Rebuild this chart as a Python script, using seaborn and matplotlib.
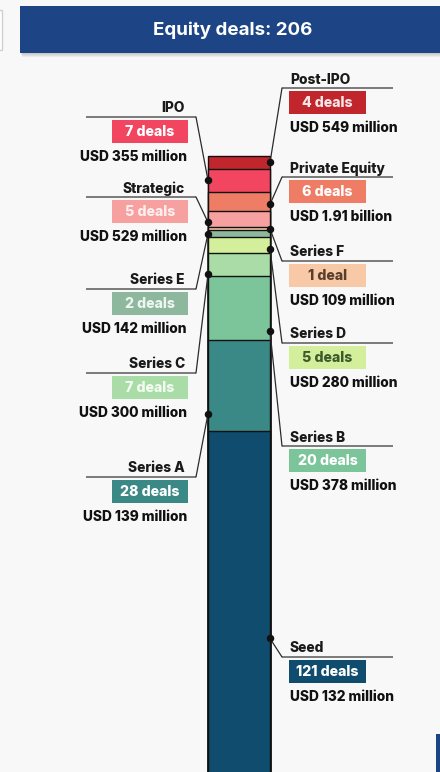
import matplotlib
matplotlib.use("Agg")
import matplotlib.pyplot as plt
import seaborn as sns
import pandas as pd
import numpy as np
from matplotlib.patches import Rectangle

# ---- data -------------------------------------------------------------
stages = ["Seed", "Series A", "Series B", "Series C", "Series D", "Series E",
          "Series F", "Strategic", "Private Equity", "IPO", "Post-IPO"]
deals = [121, 28, 20, 7, 5, 2, 1, 5, 6, 7, 4]
amounts = ["USD 132 million", "USD 139 million", "USD 378 million",
           "USD 300 million", "USD 280 million", "USD 142 million",
           "USD 109 million", "USD 529 million", "USD 1.91 billion",
           "USD 355 million", "USD 549 million"]

# ---- style ------------------------------------------------------------
seg_colors = ["#0f4c6d", "#3a8987", "#7cc49a", "#a9dca7", "#d3ef9c", "#8db89e",
              "#f7c9a6", "#f6a1a0", "#ef7d66", "#f2455f", "#c0262c"]
badge_text_colors = ["white", "white", "white", "#f4fbf2", "#3f5a2c", "#eef5f0",
                     "#5a3e2c", "#fdeeee", "white", "white", "#f8e6e6"]
side = ["R", "L", "R", "L", "R", "L", "R", "L", "R", "L", "R"]
line_y = [657, 477, 446, 373, 343, 289, 261, 197, 177, 117, 88]
anchor_frac = [0.47, 0.19, 0.14, 0.07, 0.25, 0.5, 0.5, 0.3, 0.34, 0.5, 0.5]

BG = "#f8f8f8"
NAVY = "#1d4586"
FONT = ["Inter", "DejaVu Sans"]
WEIGHT = "heavy"

sns.set_theme(style="white")
plt.rcParams["font.family"] = FONT

W, H = 440, 772
fig = plt.figure(figsize=(W / 100, H / 100), dpi=100, facecolor=BG)

# ---- stacked bar --------------------------------------------------------
total = sum(deals)
px_per_deal = 3.235
bar_top_px, bar_left_px, bar_right_px = 156, 208, 270
bar_h_px = total * px_per_deal
ax = fig.add_axes([bar_left_px / W, (H - bar_top_px - bar_h_px) / H,
                   (bar_right_px - bar_left_px) / W, bar_h_px / H])
ax.set_facecolor("none")

cum = np.cumsum(deals)
df = pd.DataFrame({"stage": stages, "deals": deals, "top": cum, "x": ["all"] * len(stages)})
# draw cumulative totals from the largest down so each segment shows on top
for i in range(len(stages) - 1, -1, -1):
    sns.barplot(data=df.iloc[[i]], x="x", y="top", color=seg_colors[i],
                saturation=1, width=0.8, edgecolor="#111111", linewidth=1.0, ax=ax)
ax.set_xlim(-0.4, 0.4)
ax.set_ylim(0, total)
ax.axis("off")
for p in ax.patches:
    p.set_clip_on(False)

# ---- overlay in pixel space for labels --------------------------------
ov = fig.add_axes([0, 0, 1, 1], zorder=5)
ov.set_xlim(0, W)
ov.set_ylim(H, 0)
ov.axis("off")
ov.patch.set_alpha(0)

to_ov = ov.transData.inverted()
bottoms = np.concatenate([[0], cum[:-1]])
for i, name in enumerate(stages):
    y_anchor = bottoms[i] + anchor_frac[i] * deals[i]
    x_edge = 0.4 if side[i] == "R" else -0.4
    ax_px, ay_px = to_ov.transform(ax.transData.transform((x_edge, y_anchor)))
    ly = line_y[i]
    n = deals[i]
    badge = f"{n} deal" if n == 1 else f"{n} deals"
    if side[i] == "R":
        jx, lx0, lx1 = 282, 282, 393
        bx0, bx1 = 289, 366
        tx, ha = 290, "left"
    else:
        jx, lx0, lx1 = 196, 86, 196
        bx0, bx1 = 112, 188
        tx, ha = 186, "right"
    ov.plot([lx0, lx1], [ly, ly], color="#707070", lw=1.3, solid_capstyle="butt")
    ov.plot([ax_px, jx], [ay_px, ly], color="#2b2b2b", lw=0.9)
    ov.plot([ax_px], [ay_px], "o", color="#111111", ms=4.4)
    ov.text(tx - (1 if ha == "right" else 0), ly - 8.5, name, ha=ha, va="center",
            fontsize=9.9, color="#1a1a1a", fontweight=WEIGHT)
    ov.add_patch(Rectangle((bx0, ly + 3), bx1 - bx0, 23, facecolor=seg_colors[i],
                           edgecolor="none"))
    ov.text((bx0 + bx1) / 2, ly + 15, badge, ha="center", va="center",
            fontsize=10.2, color=badge_text_colors[i], fontweight=WEIGHT)
    ov.text(tx + (1 if ha == "right" else 0), ly + 40, amounts[i], ha=ha, va="center",
            fontsize=9.9, color="#111111", fontweight=WEIGHT)

# ---- title banner ----------------------------------------------------------
for k in range(1, 5):
    ov.add_patch(Rectangle((20 + k * 0.5, 6 + k), 430, 47, facecolor="black",
                           alpha=0.05, edgecolor="none"))
ov.add_patch(Rectangle((20, 6), 430, 47, facecolor=NAVY, edgecolor="none"))
ov.text(233, 30, f"Equity deals: {total}", ha="center", va="center",
        fontsize=13.5, color="white", fontweight="bold")

# neighbouring panels peeking in at the edges
ov.add_patch(Rectangle((-20, 10), 22, 40, facecolor="white", edgecolor="#d0d0d0", lw=1))
ov.add_patch(Rectangle((436, 734), 20, 60, facecolor=NAVY, edgecolor="none"))

fig.savefig("out.png", dpi=100, facecolor=BG)
